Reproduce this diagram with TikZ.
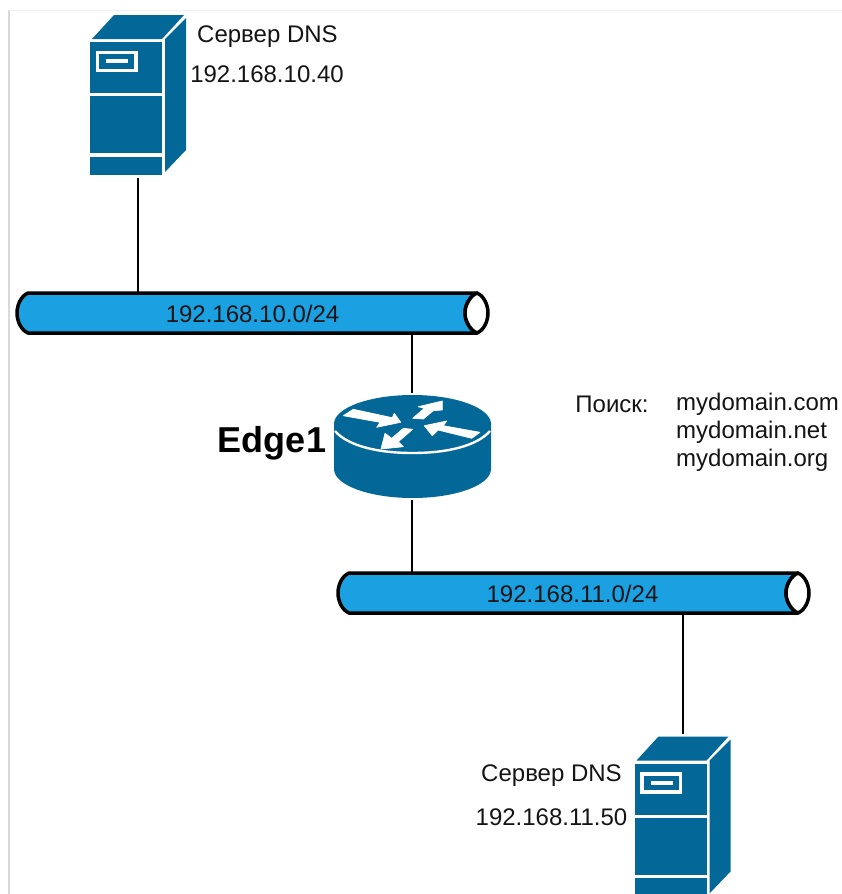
\documentclass[tikz,border=0pt]{standalone}
\usepackage{fontspec}
\setmainfont{Liberation Sans}
\definecolor{srvblue}{HTML}{036897}
\definecolor{netblue}{HTML}{1BA1E2}
\tikzset{
    every node/.style={font=\fontsize{24}{28}\selectfont, text=black!92, inner sep=0pt},
    link/.style={draw=black, line width=1.9pt},
    netlabel/.style={minimum width=471pt, minimum height=40pt},
    arrowmark/.style={fill=white, draw=white, line width=0.7pt, line join=round},
    pics/server/.style={code={
        \fill[srvblue] (0,0) rectangle (72,51);
        \fill[srvblue] (0,54) rectangle (72,111);
        \fill[srvblue] (0,114.5) rectangle (72,133);
        \fill[srvblue] (2,-3) -- (24,-27) -- (94,-27) -- (72,-3) -- cycle;
        \fill[srvblue] (75,-3) -- (96,-24) -- (96,108) -- (75,130) -- cycle;
        \draw[white, line width=3.5pt] (7.5,10.5) rectangle (46,28.5);
        \fill[white] (16,17) rectangle (38,21);
        \coordinate (-top) at (48.5,-30);
        \coordinate (-bottom) at (48,136);
    }},
    pics/pipe/.style={code={
        \draw[fill=netblue, line width=3.5pt, line join=round] (11,0) -- (460,0) .. controls (453,3) and (448,12) .. (448,20) .. controls (448,28) and (453,37) .. (460,40) -- (11,40) .. controls (4,37) and (0,28) .. (0,20) .. controls (0,12) and (4,3) .. cycle;
        \draw[fill=white, line width=3.5pt, line join=round] (460,0) .. controls (467,3) and (471,12) .. (471,20) .. controls (471,28) and (467,37) .. (460,40) .. controls (453,37) and (448,28) .. (448,20) .. controls (448,12) and (453,3) .. cycle;
    }}
}
\begin{document}
\begin{tikzpicture}[x=1pt,y=-1pt]
    \clip (0,0) rectangle (842,894);

    % page edge
    \draw[black!15, line width=2.5pt] (9,10) -- (9,894);
    \draw[black!6, line width=1pt] (9,10) -- (842,10);

    % networks
    \pic at (17,293) {pipe};
    \pic at (338,573) {pipe};
    \node[netlabel] (net10) at (252.5,313) {};
    \node[netlabel] (net11) at (573,593) {};
    \node at (252.5,314) {192.168.10.0/24};
    \node at (572.5,594) {192.168.11.0/24};

    % servers
    \pic (dns10) at (90,42) {server};
    \pic (dns11) at (634.5,763.5) {server};
    \node (name10) at (267.5,37) {Сервер DNS};
    \node (addr10) at (267,74) {192.168.10.40};
    \node (name11) at (551.5,776) {Сервер DNS};
    \node (addr11) at (551.5,817) {192.168.11.50};

    % router
    \fill[srvblue] (334,424) .. controls (334,408) and (369,395) .. (412.5,395) .. controls (456,395) and (491,408) .. (491,424) -- (491,469) .. controls (491,485) and (456,498) .. (412.5,498) .. controls (369,498) and (334,485) .. (334,469) -- cycle;
    \draw[white, line width=2.4pt] (335,431) .. controls (348,446) and (378,453) .. (412.5,453) .. controls (447,453) and (477,446) .. (490,431);
    \path[arrowmark] (343.3,415.7) -- (353.3,409.3) -- (392.3,417.7) -- (394.3,413.3) -- (400.7,422.3) -- (376.7,427.3) -- (380,422.3) -- cycle;
    \path[arrowmark] (442.3,401) -- (418.3,406.7) -- (424.3,408.3) -- (412.7,418.3) -- (423.3,419) -- (433.3,410.7) -- (442.3,410) -- cycle;
    \path[arrowmark] (480,432.3) -- (471.7,438.3) -- (438,430) -- (432.3,435.7) -- (424.3,425.7) -- (446.7,421) -- (443.3,425.7) -- cycle;
    \path[arrowmark] (412.7,429.3) -- (403.3,428.3) -- (391.7,438.3) -- (385,433.3) -- (381,449) -- (403.3,446.7) -- (398.3,441.7) -- cycle;
    \coordinate (edge1-top) at (412,393);
    \coordinate (edge1-bottom) at (412,500);
    \node[font=\fontsize{36}{40}\selectfont\bfseries, text=black] (edge1) at (272,443) {Edge1};

    % search list
    \node (search) at (612,404) {Поиск:};
    \node[align=left, anchor=north west] (domains) at (676,392.5) {mydomain.com\\mydomain.net\\mydomain.org};

    % links
    \draw[link] (dns10-bottom) -- (dns10-bottom |- net10.north);
    \draw[link] (edge1-top |- net10.south) -- (edge1-top);
    \draw[link] (edge1-bottom) -- (edge1-bottom |- net11.north);
    \draw[link] (dns11-top) -- (dns11-top |- net11.south);
\end{tikzpicture}
\end{document}
